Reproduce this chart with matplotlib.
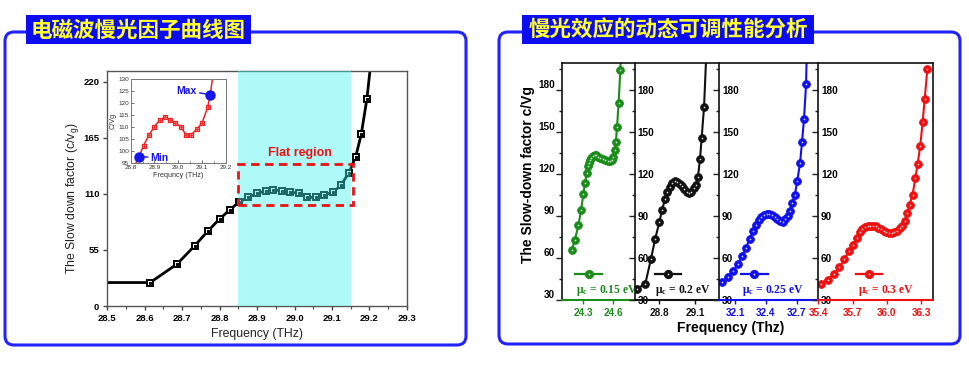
import matplotlib
matplotlib.use('Agg')
import matplotlib.pyplot as plt
from matplotlib.patches import FancyBboxPatch, Rectangle
from matplotlib.ticker import MultipleLocator, FixedLocator

plt.rcParams['font.family'] = ['Liberation Sans', 'DejaVu Sans']
plt.rcParams['mathtext.default'] = 'regular'

# ---- left chart: slow-down factor curve ----
main_freq = [28.50, 28.615, 28.687, 28.734, 28.77, 28.80, 28.828, 28.853, 28.877,
             28.90, 28.923, 28.944, 28.967, 28.989, 29.011, 29.033, 29.056, 29.08,
             29.102, 29.124, 29.145, 29.163, 29.178, 29.193, 29.21]
main_sf = [23, 23, 41.2, 59.2, 73.9, 85.3, 94.5, 102.3, 106.6, 110.5, 112.8, 114.1,
           112.8, 111.8, 110.5, 106.6, 106.6, 109.2, 111.5, 118.4, 130.8, 146.2,
           168.4, 203, 260]
flat_lo, flat_hi = 28.85, 29.15

inset_freq = [28.812, 28.835, 28.854, 28.878, 28.90, 28.923, 28.944, 28.967, 28.988,
              29.01, 29.033, 29.055, 29.079, 29.10, 29.124, 29.135, 29.148]
inset_sf = [93, 97.8, 102.4, 106.9, 110.3, 113.1, 114.2, 113.1, 111.7, 110.3, 106.9,
            106.9, 109.3, 111.7, 118.3, 123.6, 133]

# ---- right chart: four chemical potentials ----
g_freq = [24.184, 24.214, 24.25, 24.277, 24.30, 24.317, 24.334, 24.35, 24.36, 24.37,
          24.38, 24.40, 24.417, 24.43, 24.45, 24.47, 24.495, 24.52, 24.545, 24.57,
          24.585, 24.60, 24.615, 24.625, 24.637, 24.653, 24.67, 24.68]
g_sf = [65.7, 72.6, 83.3, 94.3, 105.7, 113.8, 120.9, 125.7, 128.1, 130, 131.7, 133.1,
        133.6, 133.3, 132.4, 131.7, 131, 130.2, 129.5, 129.1, 130, 131.9, 136.9, 142.6,
        153.8, 170.5, 194.3, 215]
k_freq = [28.61, 28.682, 28.73, 28.766, 28.80, 28.823, 28.848, 28.867, 28.887, 28.907,
          28.93, 28.95, 28.97, 28.99, 29.01, 29.03, 29.05, 29.07, 29.092, 29.108,
          29.125, 29.142, 29.156, 29.176, 29.20]
k_sf = [38.1, 41.4, 59.3, 73.8, 85.5, 94.3, 101.9, 106.9, 110.7, 113.6, 115, 114.3,
        112.9, 111.2, 109.1, 106.9, 106.2, 107.1, 110, 112.1, 118.1, 130.7, 145.9,
        168.1, 216]
b_freq = [31.973, 32.029, 32.078, 32.129, 32.168, 32.207, 32.243, 32.275, 32.305,
          32.33, 32.356, 32.382, 32.408, 32.434, 32.46, 32.486, 32.512, 32.538, 32.564,
          32.586, 32.612, 32.635, 32.658, 32.681, 32.706, 32.732, 32.752, 32.771,
          32.791, 32.80]
b_sf = [42.6, 46.2, 50.5, 55.7, 61.2, 67.4, 73.6, 79.3, 83.6, 86.9, 89.3, 90.7, 91.4,
        91.4, 90.5, 89.1, 87.6, 86.2, 85.5, 87.6, 90.2, 93.6, 99.0, 104.8, 115.2,
        127.6, 143.1, 159.3, 184.1, 215]
r_freq = [35.421, 35.482, 35.538, 35.584, 35.628, 35.667, 35.704, 35.737, 35.763,
          35.786, 35.81, 35.833, 35.856, 35.88, 35.903, 35.926, 35.95, 35.973, 35.996,
          36.02, 36.043, 36.066, 36.09, 36.113, 36.136, 36.157, 36.177, 36.198, 36.224,
          36.248, 36.268, 36.291, 36.312, 36.33, 36.353]
r_sf = [41.2, 44.5, 48.4, 53.3, 59.0, 64.7, 69.5, 74.3, 78.3, 80.5, 81.9, 82.6, 83, 83,
        82.6, 81.7, 80.5, 79.3, 78.6, 78.1, 78.1, 78.6, 79.5, 81.2, 83, 86.2, 91.9,
        98.1, 105.2, 116.9, 126.9, 140, 157.1, 173.6, 194.8]

panel_data = [(g_freq, g_sf), (k_freq, k_sf), (b_freq, b_sf), (r_freq, r_sf)]
panel_colors = ['#1a8c1a', '#111111', '#1010ee', '#ee1111']
panel_xlims = [(24.083, 24.817), (28.596, 29.304), (31.947, 32.91), (35.4, 36.4)]
panel_xticks = [[24.3, 24.6], [28.8, 29.1], [32.1, 32.4, 32.7], [35.4, 35.7, 36.0, 36.3]]
panel_labels = ['0.15', '0.2', '0.25', '0.3']
# number of trailing line-only points (line runs off the top)
panel_tail = [1, 1, 1, 0]
panel_edges = [561.7, 635, 719.3, 818.3, 932.7]
legend_spans = [(0.186, 0.546), (0.234, 0.55), (0.219, 0.488), (0.327, 0.554)]
legend_text_x = [0.19, 0.241, 0.229, 0.344]

W, H = 970, 379
fig = plt.figure(figsize=(9.7, 3.79), dpi=100)


def frac(x0, y0, x1, y1):
    return [x0 / W, 1 - y1 / H, (x1 - x0) / W, (y1 - y0) / H]


# background: frames and titles in pixel coordinates
bg = fig.add_axes([0, 0, 1, 1])
bg.set_xlim(0, W)
bg.set_ylim(H, 0)
bg.axis('off')
for (x0, y0, x1, y1) in [(5, 32, 466, 345), (499, 32, 960, 344)]:
    bg.add_patch(FancyBboxPatch((x0, y0), x1 - x0, y1 - y0,
                                boxstyle='round,pad=0,rounding_size=9',
                                fc='white', ec='#2222ff', lw=2.2))
titles = [((25.7, 15, 251, 44), '电磁波慢光因子曲线图'),
          ((522, 15, 814, 44), '慢光效应的动态可调性能分析')]
for (x0, y0, x1, y1), txt in titles:
    bg.add_patch(Rectangle((x0, y0), x1 - x0, y1 - y0, fc='#0c0cf0', ec='none'))
    bg.text((x0 + x1) / 2, (y0 + y1) / 2 + 0.5, txt, color='#ffff30', fontsize=15.5,
            fontweight='bold', ha='center', va='center',
            family=['Noto Sans CJK SC', 'DejaVu Sans'])

# ---- left main axes ----
ax = fig.add_axes(frac(107, 71, 407, 306))
ax.plot(main_freq, main_sf, color='black', lw=2, marker='s', ms=4.2, mfc='white',
        mec='black', mew=1.4, markevery=range(1, len(main_freq) - 1), zorder=2)
ax.plot(main_freq[1:-1], main_sf[1:-1], ls='none', marker='s', ms=1.3, color='black',
        zorder=2)
ax.axvspan(flat_lo, flat_hi, color=(0.25, 0.96, 0.94), alpha=0.42, lw=0, zorder=3)
ax.add_patch(Rectangle((28.85, 99), 0.305, 40, fill=False, ec='#ee1111', lw=2,
                       ls=(0, (3, 2)), zorder=5, clip_on=False))
ax.text(29.015, 150, 'Flat region', color='#ee1111', fontsize=9, fontweight='bold',
        ha='center', va='center', zorder=5)
ax.set_xlim(28.5, 29.3)
ax.set_ylim(0, 230.5)
ax.set_xticks([28.5, 28.6, 28.7, 28.8, 28.9, 29.0, 29.1, 29.2, 29.3])
ax.set_yticks([0, 55, 110, 165, 220])
ax.xaxis.set_minor_locator(MultipleLocator(0.05))
ax.tick_params(direction='out', length=3, width=1, labelsize=6.8, pad=2.5, color='#444')
ax.tick_params(which='minor', direction='out', length=2, width=0.8, color='#444')
ax.tick_params(axis='y', which='minor', left=False)
for lb in ax.get_xticklabels() + ax.get_yticklabels():
    lb.set_fontweight('bold')
for s in ax.spines.values():
    s.set_color('#555')
    s.set_linewidth(1)
ax.set_xlabel('Frequency (THz)', fontsize=8.8, color='#222')
ax.set_ylabel(r'The Slow down factor (c/v$_g$)', fontsize=8.8, color='#222')
ax.xaxis.set_label_coords(0.5, -0.095)
ax.yaxis.set_label_coords(-0.085, 0.46)

# ---- inset ----
ins = fig.add_axes(frac(130.7, 79.3, 225.7, 163.3))
ins.plot(inset_freq, inset_sf, color='#ee2222', lw=1.1, marker='s', ms=3.2,
         mfc='white', mec='#ee2222', mew=0.9, markevery=range(2, len(inset_freq) - 2))
ins.plot(inset_freq[2:-2], inset_sf[2:-2], ls='none', marker='s', ms=0.9,
         color='#ee2222')
ins.plot([inset_freq[1], inset_freq[-2]], [inset_sf[1], inset_sf[-2]], ls='none',
         marker='o', ms=6.5, color='#1515ee', zorder=5, clip_on=False)
ins.annotate('Min', xy=(inset_freq[1], inset_sf[1]), xytext=(28.884, 97.3),
             color='#1515ee', fontsize=7.5, fontweight='bold', ha='left', va='center',
             arrowprops=dict(arrowstyle='-', color='#1515ee', lw=1, shrinkA=0, shrinkB=0))
ins.annotate('Max', xy=(inset_freq[-2], inset_sf[-2]), xytext=(29.078, 125.2),
             color='#1515ee', fontsize=7.5, fontweight='bold', ha='right', va='center',
             arrowprops=dict(arrowstyle='-', color='#1515ee', lw=1, shrinkA=0, shrinkB=0))
ins.set_xlim(28.8, 29.2)
ins.set_ylim(95, 130)
ins.set_xticks([28.8, 28.9, 29.0, 29.1, 29.2])
ins.set_yticks(range(95, 131, 5))
ins.xaxis.set_minor_locator(MultipleLocator(0.05))
ins.tick_params(direction='in', length=2, width=0.6, labelsize=4.6, pad=1,
                color='#555', labelcolor='#333')
ins.tick_params(which='minor', direction='in', length=1.2, width=0.5, color='#555')
for s in ins.spines.values():
    s.set_color('#777')
    s.set_linewidth(0.7)
ins.set_xlabel('Frequncy (THz)', fontsize=5.2, color='#333', labelpad=1.5)
ins.set_ylabel('C/Vg', fontsize=5.2, color='#333', labelpad=1)

# ---- right panels ----
for i, ((fx, fy), col) in enumerate(zip(panel_data, panel_colors)):
    pa = fig.add_axes(frac(panel_edges[i], 62.7, panel_edges[i + 1], 300))
    pa.patch.set_alpha(0)
    n_mark = len(fx) - panel_tail[i]
    pa.plot(fx, fy, color=col, lw=1.5, marker='o', ms=5.6, mfc=col, mec=col, mew=0.6,
            markevery=range(n_mark))
    pa.plot(fx[:n_mark], fy[:n_mark], ls='none', marker='o', ms=1.2, mew=0,
            color='white', alpha=0.85)
    pa.set_xlim(*panel_xlims[i])
    pa.set_ylim(30, 199.5)
    pa.set_xticks(panel_xticks[i])
    pa.set_xticklabels(['%.1f' % t for t in panel_xticks[i]], fontweight='bold')
    pa.yaxis.set_major_locator(FixedLocator([30, 60, 90, 120, 150, 180]))
    pa.yaxis.set_minor_locator(FixedLocator([45, 75, 105, 135, 165, 195]))
    pa.tick_params(axis='x', colors=col, labelsize=7.2, length=3, width=1, pad=2.5)
    pa.tick_params(axis='y', which='both', direction='out', width=1, color='#222')
    pa.tick_params(axis='y', which='major', length=4, labelsize=7.2)
    pa.tick_params(axis='y', which='minor', length=2.5)
    if i == 0:
        pa.tick_params(axis='y', pad=1)
        plt.setp(pa.get_yticklabels(), fontweight='bold', va='bottom')
        pa.set_ylabel('The Slow-down factor c/Vg', fontsize=10, fontweight='bold')
        pa.yaxis.set_label_coords(-0.36, 0.53)
    else:
        pa.tick_params(axis='y', which='major', pad=-6)
        plt.setp(pa.get_yticklabels(), fontweight='bold', ha='left')
    for side in ['left', 'top', 'right']:
        pa.spines[side].set_color('#111')
        pa.spines[side].set_linewidth(1.2)
    pa.spines['bottom'].set_color(col)
    pa.spines['bottom'].set_linewidth(1.5)
    if i < 3:
        pa.spines['right'].set_visible(False)
    # legend glyph and label
    x0, x1 = legend_spans[i]
    pa.plot([x0, x1], [0.11, 0.11], transform=pa.transAxes, color=col, lw=1.6)
    pa.plot([(x0 + x1) / 2], [0.11], transform=pa.transAxes, marker='o', ms=5.6,
            color=col)
    pa.plot([(x0 + x1) / 2], [0.11], transform=pa.transAxes, marker='o', ms=1.2,
            mew=0, color='white')
    pa.text(legend_text_x[i], 0.042, r'μ$_c$ = %s eV' % panel_labels[i],
            transform=pa.transAxes, color=col, fontsize=8.4, fontweight='bold',
            family='Liberation Serif', ha='left', va='center', zorder=1)

fig.text(731 / W, 1 - 328 / H, 'Frequency (Thz)', fontsize=10, fontweight='bold',
         ha='center', va='center')

fig.savefig('out.png', dpi=100, facecolor='white')
